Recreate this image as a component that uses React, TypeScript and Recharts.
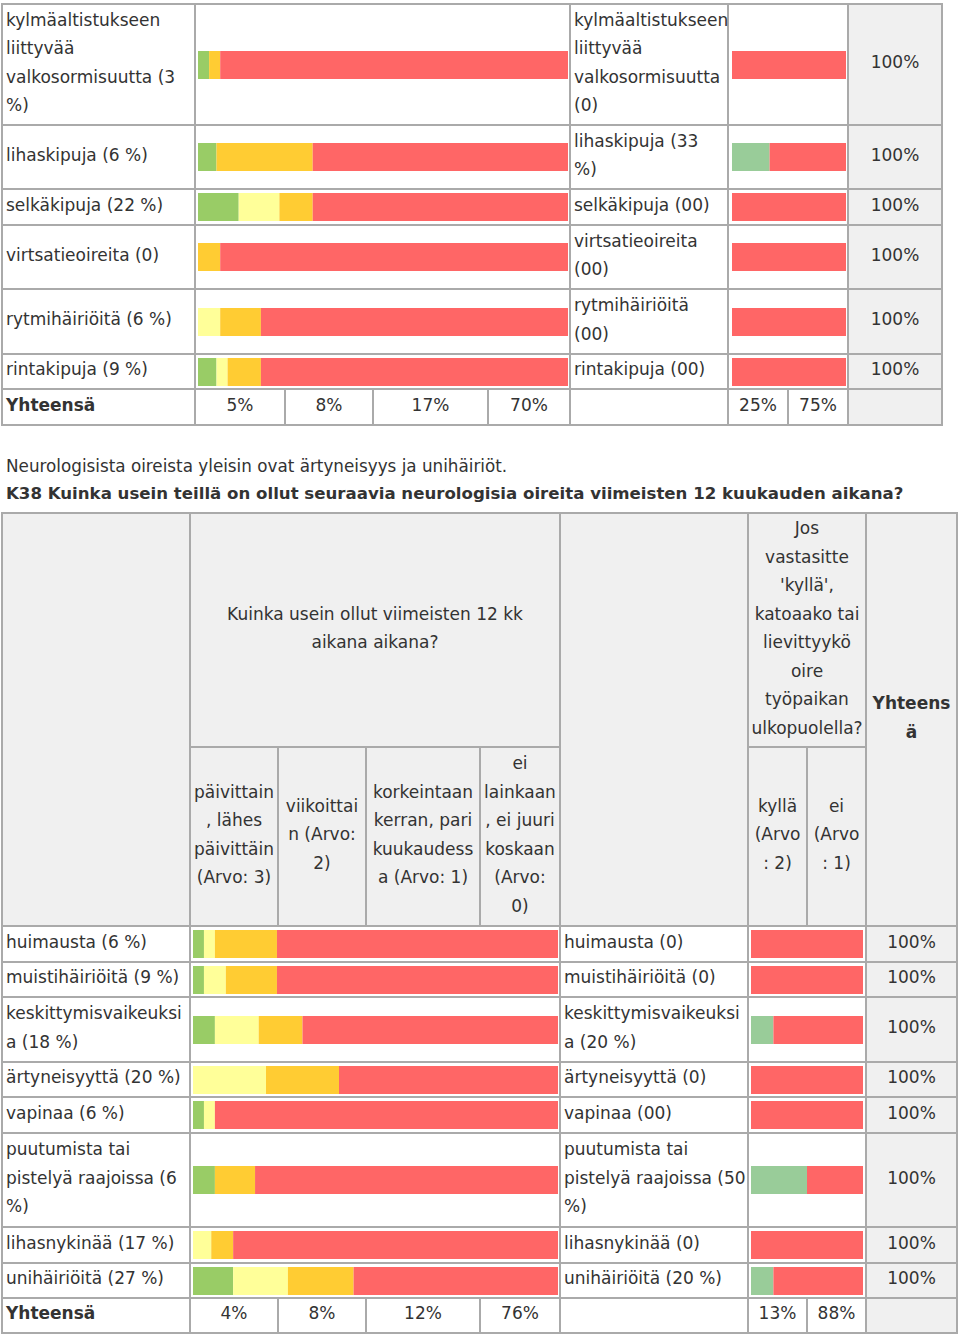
import React from "react";
import { BarChart, Bar, XAxis, YAxis } from "recharts";

// --- table 1 (continued symptoms) ---
const t1Labels = [
    "kylmäaltistukseen\nliittyvää\nvalkosormisuutta (3\n%)",
    "lihaskipuja (6 %)",
    "selkäkipuja (22 %)",
    "virtsatieoireita (0)",
    "rytmihäiriöitä (6 %)",
    "rintakipuja (9 %)",
];
const t1Daily = [3, 5, 11, 0, 0, 5];
const t1Weekly = [0, 0, 11, 0, 6, 3];
const t1Monthly = [3, 26, 9, 6, 11, 9];
const t1Never = [94, 69, 69, 94, 83, 83];
const t1SubLabels = [
    "kylmäaltistukseen\nliittyvää\nvalkosormisuutta\n(0)",
    "lihaskipuja (33\n%)",
    "selkäkipuja (00)",
    "virtsatieoireita\n(00)",
    "rytmihäiriöitä\n(00)",
    "rintakipuja (00)",
];
const t1Yes = [0, 33, 0, 0, 0, 0];
const t1No = [100, 67, 100, 100, 100, 100];
const t1Totals = ["100%", "100%", "100%", "100%", "100%", "100%"];
const t1SumFreq = ["5%", "8%", "17%", "70%"];
const t1SumOutside = ["25%", "75%"];

// --- table 2 (K38 neurological symptoms) ---
const noteText = "Neurologisista oireista yleisin ovat ärtyneisyys ja unihäiriöt.";
const questionTitle =
    "K38 Kuinka usein teillä on ollut seuraavia neurologisia oireita viimeisten 12 kuukauden aikana?";
const freqHeader = "Kuinka usein ollut viimeisten 12 kk\naikana aikana?";
const outsideHeader =
    "Jos\nvastasitte\n'kyllä',\nkatoaako tai\nlievittyykö\noire\ntyöpaikan\nulkopuolella?";
const totalHeader = "Yhteens\nä";
const freqCats = [
    "päivittain\n, lähes\npäivittäin\n(Arvo: 3)",
    "viikoittai\nn (Arvo:\n2)",
    "korkeintaan\nkerran, pari\nkuukaudess\na (Arvo: 1)",
    "ei\nlainkaan\n, ei juuri\nkoskaan\n(Arvo:\n0)",
];
const outsideCats = ["kyllä\n(Arvo\n: 2)", "ei\n(Arvo\n: 1)"];

const t2Labels = [
    "huimausta (6 %)",
    "muistihäiriöitä (9 %)",
    "keskittymisvaikeuksi\na (18 %)",
    "ärtyneisyyttä (20 %)",
    "vapinaa (6 %)",
    "puutumista tai\npistelyä raajoissa (6\n%)",
    "lihasnykinää (17 %)",
    "unihäiriöitä (27 %)",
];
const t2Daily = [3, 3, 6, 0, 3, 6, 0, 11];
const t2Weekly = [3, 6, 12, 20, 3, 0, 5, 15];
const t2Monthly = [17, 14, 12, 20, 0, 11, 6, 18];
const t2Never = [77, 77, 70, 60, 94, 83, 89, 56];
const t2SubLabels = [
    "huimausta (0)",
    "muistihäiriöitä (0)",
    "keskittymisvaikeuksi\na (20 %)",
    "ärtyneisyyttä (0)",
    "vapinaa (00)",
    "puutumista tai\npistelyä raajoissa (50\n%)",
    "lihasnykinää (0)",
    "unihäiriöitä (20 %)",
];
const t2Yes = [0, 0, 20, 0, 0, 50, 0, 20];
const t2No = [100, 100, 80, 100, 100, 50, 100, 80];
const t2Totals = ["100%", "100%", "100%", "100%", "100%", "100%", "100%", "100%"];
const t2SumFreq = ["4%", "8%", "12%", "76%"];
const t2SumOutside = ["13%", "88%"];

const totalLabel = "Yhteensä";

const FREQ_COLORS = ["#99cc66", "#ffff99", "#ffcc33", "#ff6666"];
const YESNO_COLORS = ["#99cc99", "#ff6666"];
const FONT = '"DejaVu Sans", Verdana, sans-serif';
const LINE = "#aaaaaa";
const HEAD_BG = "#f0f0f0";

function Cell({
    x0, x1, y0, y1, bg = "#fff", align = "left", bold = false, children,
}: any) {
    return (
        <div
            style={{
                position: "absolute",
                left: x0,
                top: y0,
                width: x1 - x0,
                height: y1 - y0,
                boxSizing: "border-box",
                border: `1px solid ${LINE}`,
                background: bg,
                display: "flex",
                alignItems: "center",
                justifyContent: align === "center" ? "center" : "flex-start",
                textAlign: align,
                padding: "0 3px 4px 3px",
                fontWeight: bold ? 700 : 400,
                whiteSpace: "pre",
            }}
        >
            {children}
        </div>
    );
}

function StackBar({ values, colors, x, width, yMid }: any) {
    const keys = values.map((_: number, i: number) => "s" + i);
    const row: any = { name: "r" };
    values.forEach((v: number, i: number) => (row[keys[i]] = v));
    return (
        <div style={{ position: "absolute", left: x, top: yMid - 14 }}>
            <BarChart
                layout="vertical"
                width={width}
                height={28}
                data={[row]}
                margin={{ top: 0, right: 0, bottom: 0, left: 0 }}
                barCategoryGap={0}
            >
                <XAxis type="number" domain={[0, 100]} hide />
                <YAxis type="category" dataKey="name" hide />
                {keys.map((k: string, i: number) => (
                    <Bar
                        key={k}
                        dataKey={k}
                        stackId="a"
                        fill={colors[i]}
                        isAnimationActive={false}
                    />
                ))}
            </BarChart>
        </div>
    );
}

function Frame({ x0, x1, y0, y1 }: any) {
    return (
        <div
            style={{
                position: "absolute",
                left: x0 - 1,
                top: y0 - 1,
                width: x1 - x0 + 2,
                height: y1 - y0 + 2,
                boxSizing: "border-box",
                border: `1px solid ${LINE}`,
            }}
        />
    );
}

function SymptomTable({
    X, rows, sumY, labels, sub, daily, weekly, monthly, never, yes, no, totals,
    sumFreq, sumOutside, freqSplit, outSplit, bar1, bar2,
}: any) {
    const cells: any[] = [];
    rows.forEach((r: number[], i: number) => {
        const mid = (r[0] + r[1]) / 2;
        cells.push(
            <Cell key={"l" + i} x0={X[0]} x1={X[1]} y0={r[0]} y1={r[1]}>{labels[i]}</Cell>,
            <Cell key={"b" + i} x0={X[1]} x1={X[2]} y0={r[0]} y1={r[1]} />,
            <Cell key={"s" + i} x0={X[2]} x1={X[3]} y0={r[0]} y1={r[1]}>{sub[i]}</Cell>,
            <Cell key={"c" + i} x0={X[3]} x1={X[4]} y0={r[0]} y1={r[1]} />,
            <Cell key={"t" + i} x0={X[4]} x1={X[5]} y0={r[0]} y1={r[1]} bg={HEAD_BG} align="center">
                {totals[i]}
            </Cell>,
            <StackBar key={"fb" + i} x={bar1[0]} width={bar1[1]} yMid={mid}
                values={[daily[i], weekly[i], monthly[i], never[i]]} colors={FREQ_COLORS} />,
            <StackBar key={"ob" + i} x={bar2[0]} width={bar2[1]} yMid={mid}
                values={[yes[i], no[i]]} colors={YESNO_COLORS} />
        );
    });
    cells.push(
        <Cell key="sl" x0={X[0]} x1={X[1]} y0={sumY[0]} y1={sumY[1]} bold>{totalLabel}</Cell>
    );
    sumFreq.forEach((v: string, i: number) =>
        cells.push(
            <Cell key={"sf" + i} x0={freqSplit[i]} x1={freqSplit[i + 1]} y0={sumY[0]} y1={sumY[1]} align="center">
                {v}
            </Cell>
        )
    );
    cells.push(<Cell key="se" x0={X[2]} x1={X[3]} y0={sumY[0]} y1={sumY[1]} />);
    sumOutside.forEach((v: string, i: number) =>
        cells.push(
            <Cell key={"so" + i} x0={outSplit[i]} x1={outSplit[i + 1]} y0={sumY[0]} y1={sumY[1]} align="center">
                {v}
            </Cell>
        )
    );
    cells.push(<Cell key="st" x0={X[4]} x1={X[5]} y0={sumY[0]} y1={sumY[1]} bg={HEAD_BG} />);
    return <>{cells}</>;
}

export default function App() {
    const X1 = [2, 195, 570, 728, 848, 942];
    const R1 = [[4, 125], [125, 189], [189, 225], [225, 289], [289, 354], [354, 389]];
    const X2 = [2, 190, 560, 748, 866, 957];
    const R2 = [[926, 962], [962, 997], [997, 1062], [1062, 1097], [1097, 1133], [1133, 1227], [1227, 1263], [1263, 1298]];
    const sub2 = [190, 278, 366, 480, 560];
    const out2 = [748, 807, 866];

    return (
        <div
            style={{
                position: "absolute",
                left: 0,
                top: 0,
                width: 960,
                height: 1338,
                background: "#fff",
                fontFamily: FONT,
                fontSize: 17,
                lineHeight: "28.5px",
                color: "#333",
            }}
        >
            <Frame x0={2} x1={942} y0={4} y1={425} />
            <SymptomTable
                X={X1} rows={R1} sumY={[389, 425]}
                labels={t1Labels} sub={t1SubLabels}
                daily={t1Daily} weekly={t1Weekly} monthly={t1Monthly} never={t1Never}
                yes={t1Yes} no={t1No} totals={t1Totals}
                sumFreq={t1SumFreq} sumOutside={t1SumOutside}
                freqSplit={[195, 285, 373, 488, 570]} outSplit={[728, 788, 848]}
                bar1={[198, 370]} bar2={[732, 114]}
            />

            <div style={{ position: "absolute", left: 6, top: 452, fontSize: 16.8 }}>{noteText}</div>
            <div style={{ position: "absolute", left: 6, top: 480, fontSize: 16.6, fontWeight: 700 }}>
                {questionTitle}
            </div>

            <Frame x0={2} x1={957} y0={513} y1={1333} />
            <Cell x0={2} x1={190} y0={513} y1={926} bg={HEAD_BG} />
            <Cell x0={190} x1={560} y0={513} y1={747} bg={HEAD_BG} align="center">{freqHeader}</Cell>
            {freqCats.map((c, i) => (
                <Cell key={c} x0={sub2[i]} x1={sub2[i + 1]} y0={747} y1={926} bg={HEAD_BG} align="center">
                    {c}
                </Cell>
            ))}
            <Cell x0={560} x1={748} y0={513} y1={926} bg={HEAD_BG} />
            <Cell x0={748} x1={866} y0={513} y1={747} bg={HEAD_BG} align="center">{outsideHeader}</Cell>
            {outsideCats.map((c, i) => (
                <Cell key={c} x0={out2[i]} x1={out2[i + 1]} y0={747} y1={926} bg={HEAD_BG} align="center">
                    {c}
                </Cell>
            ))}
            <Cell x0={866} x1={957} y0={513} y1={926} bg={HEAD_BG} align="center" bold>{totalHeader}</Cell>
            <SymptomTable
                X={X2} rows={R2} sumY={[1298, 1333]}
                labels={t2Labels} sub={t2SubLabels}
                daily={t2Daily} weekly={t2Weekly} monthly={t2Monthly} never={t2Never}
                yes={t2Yes} no={t2No} totals={t2Totals}
                sumFreq={t2SumFreq} sumOutside={t2SumOutside}
                freqSplit={sub2} outSplit={out2}
                bar1={[193, 365]} bar2={[751, 112]}
            />
        </div>
    );
}
